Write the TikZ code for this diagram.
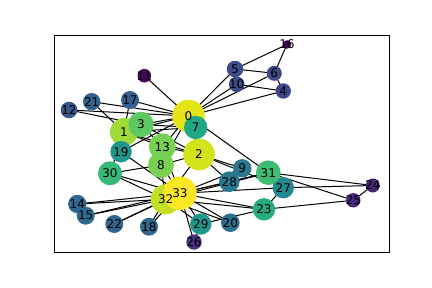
\documentclass[tikz,border=0pt]{standalone}
\usepackage{fontspec}
\setmainfont{DejaVu Sans}
\usetikzlibrary{backgrounds}
\definecolor{c0}{HTML}{E4E419}
\definecolor{c1}{HTML}{A0DA39}
\definecolor{c2}{HTML}{D2E21B}
\definecolor{c3}{HTML}{5EC962}
\definecolor{c4}{HTML}{3F4788}
\definecolor{c5}{HTML}{3E4C8A}
\definecolor{c6}{HTML}{3F4788}
\definecolor{c7}{HTML}{22A785}
\definecolor{c8}{HTML}{7AD151}
\definecolor{c9}{HTML}{2A788E}
\definecolor{c10}{HTML}{3E4A89}
\definecolor{c11}{HTML}{450559}
\definecolor{c12}{HTML}{39568C}
\definecolor{c13}{HTML}{75D054}
\definecolor{c14}{HTML}{31678E}
\definecolor{c15}{HTML}{30698E}
\definecolor{c16}{HTML}{440154}
\definecolor{c17}{HTML}{355F8D}
\definecolor{c18}{HTML}{31668E}
\definecolor{c19}{HTML}{1F968B}
\definecolor{c20}{HTML}{2D708E}
\definecolor{c21}{HTML}{33628D}
\definecolor{c22}{HTML}{31668E}
\definecolor{c23}{HTML}{27AD81}
\definecolor{c24}{HTML}{482475}
\definecolor{c25}{HTML}{472A7A}
\definecolor{c26}{HTML}{46327E}
\definecolor{c27}{HTML}{23898E}
\definecolor{c28}{HTML}{297A8E}
\definecolor{c29}{HTML}{1F978B}
\definecolor{c30}{HTML}{37B878}
\definecolor{c31}{HTML}{3DBC74}
\definecolor{c32}{HTML}{C2DF23}
\definecolor{c33}{HTML}{FDE725}
\begin{document}
\begin{tikzpicture}[x=1bp,y=-1bp,
  vtx/.style={circle,inner sep=0pt,outer sep=0pt,minimum size=#1},
  edge/.style={draw=black,line width=1bp},
  lbl/.style={inner sep=0pt,font=\fontsize{12bp}{12bp}\selectfont,text=black}]
\useasboundingbox (0,0) rectangle (432,288);
\draw[line width=0.8bp,black] (54,35) rectangle (389,252);
\foreach \n/\x/\y/\d in {
 0/188.5/116/32.6, 1/124/132/28, 2/199/154.5/31.6, 3/141/124.5/25.6,
 4/283.3/91/15.4, 5/235/69/16.6, 6/274.3/73.3/15, 7/195.7/127.5/23.4,
 8/161/165/26, 9/242.3/168.3/18.4, 10/236.7/84.3/15.6, 11/144.3/75.7/13.6,
 12/69/110/16.6, 13/162.3/146.7/26.6, 14/77.3/204/18.4, 15/85.7/215.7/18,
 16/287/44.5/8.6, 17/130/100/18, 18/149/226.7/18, 19/121/151.7/21.4,
 20/230.3/222.7/18.6, 21/91.7/101.7/17.4, 22/114.3/224/18, 23/264/209.3/22.4,
 24/372.8/185.5/14, 25/353.3/200.3/14.4, 26/194/242/15.4, 27/283.3/187.7/21.4,
 28/229.3/181.7/20.6, 29/200.8/224/21.4, 30/110/173.3/24, 31/268.3/172.7/24.6,
 32/165.7/199.3/30, 33/180/193.3/33.6}
  \node[vtx=\d bp,fill=c\n] (n\n) at (\x,\y) {};
\begin{pgfonlayer}{background}
\foreach \a/\b in {
 0/1,0/2,0/3,0/4,0/5,0/6,0/7,0/8,0/10,0/11,0/12,0/13,0/17,0/19,0/21,0/31,
 1/2,1/3,1/7,1/13,1/17,1/19,1/21,1/30,
 2/3,2/7,2/8,2/9,2/13,2/27,2/28,2/32,
 3/7,3/12,3/13, 4/6,4/10, 5/6,5/10,5/16, 6/16,
 8/30,8/32,8/33, 9/33, 13/33, 14/32,14/33, 15/32,15/33, 18/32,18/33,
 19/33, 20/32,20/33, 22/32,22/33,
 23/25,23/27,23/29,23/32,23/33, 24/25,24/27,24/31, 25/31,
 26/29,26/33, 27/33, 28/31,28/33, 29/32,29/33, 30/32,30/33,
 31/32,31/33, 32/33}
  \draw[edge] (n\a.center) -- (n\b.center);
\end{pgfonlayer}
\foreach \n in {0,...,33}
  \node[lbl] (l\n) at (n\n) {\n};
\end{tikzpicture}
\end{document}
